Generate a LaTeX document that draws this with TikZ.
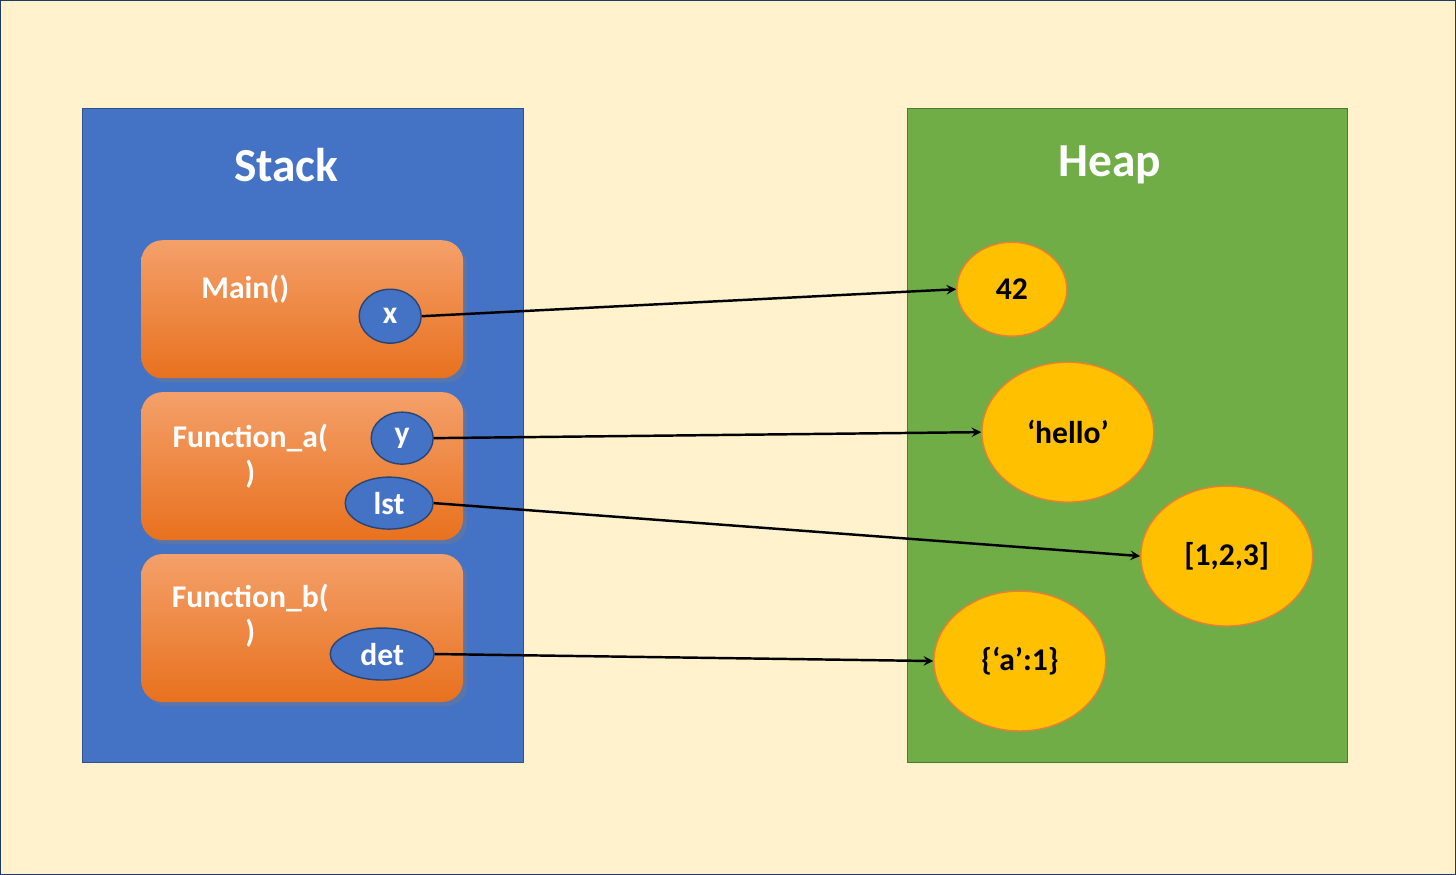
\documentclass[tikz,border=0pt]{standalone}
\usepackage{fontspec}
\setmainfont{Carlito}
\usetikzlibrary{shadows}
\definecolor{bg}{HTML}{FFF2CC}
\definecolor{stackc}{HTML}{4472C4}
\definecolor{heapc}{HTML}{70AD47}
\definecolor{orA}{HTML}{F4A06A}
\definecolor{orB}{HTML}{E8711E}
\definecolor{gold}{HTML}{FFC000}
\definecolor{goldb}{HTML}{ED7D31}
\begin{document}
\begin{tikzpicture}[x=0.02cm,y=-0.02cm,
  title/.style={font=\fontsize{27}{30}\selectfont\bfseries,text=white},
  lbl/.style={font=\fontsize{18}{20}\selectfont\bfseries},
  frame/.style={rounded corners=12pt,top color=orA,bottom color=orB,draw=none,drop shadow={opacity=0.35}},
  var/.style={ellipse,draw=stackc!60!black,fill=stackc,thick,text=white,lbl,inner sep=0pt},
  obj/.style={ellipse,draw=goldb,fill=gold,thick,lbl,inner sep=0pt},
  arr/.style={->,>=stealth,line width=1.4pt}]
\usetikzlibrary{shapes.geometric}
\draw[fill=bg,draw=stackc!50!black] (0,0) rectangle (1456,874);
\draw[fill=stackc,draw=stackc!70!black] (82,108) rectangle (523,762);
\draw[fill=heapc,draw=heapc!70!black] (907,108) rectangle (1348,762);
\node[title] (st) at (286,165) {Stack};
\node[title] (hp) at (1110,165) {Heap};
\path[frame] (141,240) rectangle (463,378);
\path[frame] (141,392) rectangle (463,540);
\path[frame] (141,554) rectangle (463,702);
\node[lbl,text=white] (m) at (245,289) {Main()};
\node[lbl,text=white,align=center] (fa) at (250,456) {Function\_a(\\)};
\node[lbl,text=white,align=center] (fb) at (250,616) {Function\_b(\\)};
\node[var,minimum width=62\pgflinewidth*0+1.24cm,minimum height=1.08cm] (x) at (390,316) {x};
\node[var,minimum width=1.24cm,minimum height=1.04cm] (y) at (402,438) {y};
\node[var,minimum width=1.76cm,minimum height=1.04cm] (lst) at (389,503) {lst};
\node[var,minimum width=2.08cm,minimum height=1.04cm] (det) at (382,654) {det};
\node[obj,minimum width=2.2cm,minimum height=1.88cm] (o1) at (1012,289) {42};
\node[obj,minimum width=3.44cm,minimum height=2.8cm] (o2) at (1068,432) {‘hello’};
\node[obj,minimum width=3.44cm,minimum height=2.8cm] (o3) at (1227,556) {[1,2,3]};
\node[obj,minimum width=3.44cm,minimum height=2.8cm] (o4) at (1020,661) {\{‘a’:1\}};
\draw[arr] (x.east) -- (o1.west);
\draw[arr] (y.east) -- (o2.west);
\draw[arr] (lst.east) -- (o3.west);
\draw[arr] (det.east) -- (o4.west);
\end{tikzpicture}
\end{document}
